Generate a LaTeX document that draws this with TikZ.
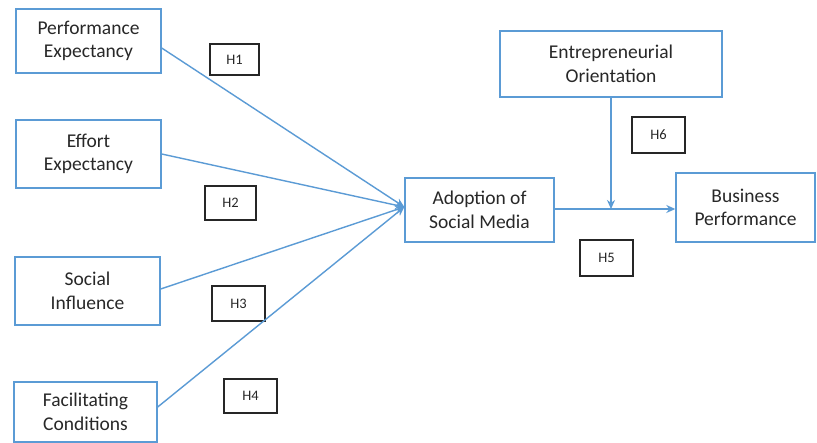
\documentclass[tikz,border=0pt]{standalone}
\usepackage{fontspec}
\setmainfont{Carlito}
\usetikzlibrary{arrows.meta}
\definecolor{lblue}{RGB}{91,155,213}
\definecolor{txt}{RGB}{40,40,40}
\begin{document}
\begin{tikzpicture}[x=1pt,y=-1pt,
  box/.style={draw=lblue,line width=1.4pt,align=center,inner sep=0pt,text=txt,
    font=\fontsize{19.5}{23.5}\selectfont},
  hbox/.style={draw=black!85,line width=1.5pt,inner sep=0pt,text=txt,
    minimum width=52pt,minimum height=34pt,font=\fontsize{14.5}{14.5}\selectfont},
  conn/.style={draw=lblue,line width=1.4pt},
  arr/.style={conn,-{Stealth[length=9pt,width=8pt]}}]
\useasboundingbox[fill=white] (0,0) rectangle (817,443);
\node[box,minimum width=145pt,minimum height=64pt] (pe) at (88.5,41) {Performance\\Expectancy};
\node[box,minimum width=145pt,minimum height=68pt] (ee) at (88.5,154) {Effort\\Expectancy};
\node[box,minimum width=145pt,minimum height=68pt] (si) at (87.5,291) {Social\\Influence};
\node[box,minimum width=143pt,minimum height=60pt] (fc) at (85.5,412) {Facilitating\\Conditions};
\node[box,minimum width=149pt,minimum height=64pt] (ad) at (479.5,210) {Adoption of\\Social Media};
\node[box,minimum width=222pt,minimum height=66pt] (eo) at (611,64) {Entrepreneurial\\Orientation};
\node[box,minimum width=139pt,minimum height=69pt] (bp) at (745.5,207.5) {Business\\Performance};
\node[hbox,minimum width=49pt,minimum height=31pt] (h1) at (234.5,59.5) {H1};
\node[hbox,minimum width=51pt] (h2) at (230.5,203) {H2};
\node[hbox,minimum width=53pt,minimum height=35pt] (h3) at (238.5,303.5) {H3};
\node[hbox,minimum width=53pt] (h4) at (250.5,396) {H4};
\node[hbox,minimum width=53pt,minimum height=36pt] (h5) at (606.5,258) {H5};
\node[hbox,minimum width=53pt,minimum height=36pt] (h6) at (658.5,135) {H6};
\coordinate (cv) at ([yshift=3pt]ad.west);
\coordinate (ao) at ([yshift=1pt]ad.east);
\draw[arr] ([yshift=-7pt]pe.east) -- (cv);
\draw[arr] (ee.east) -- (cv);
\draw[arr] ([yshift=2pt]si.east) -- (cv);
\draw[arr] ([yshift=5pt]fc.east) -- (cv);
\draw[arr] (ao) -- (bp.west |- ao);
\draw[arr] (eo.south) -- (eo.south |- ao);
\end{tikzpicture}
\end{document}
